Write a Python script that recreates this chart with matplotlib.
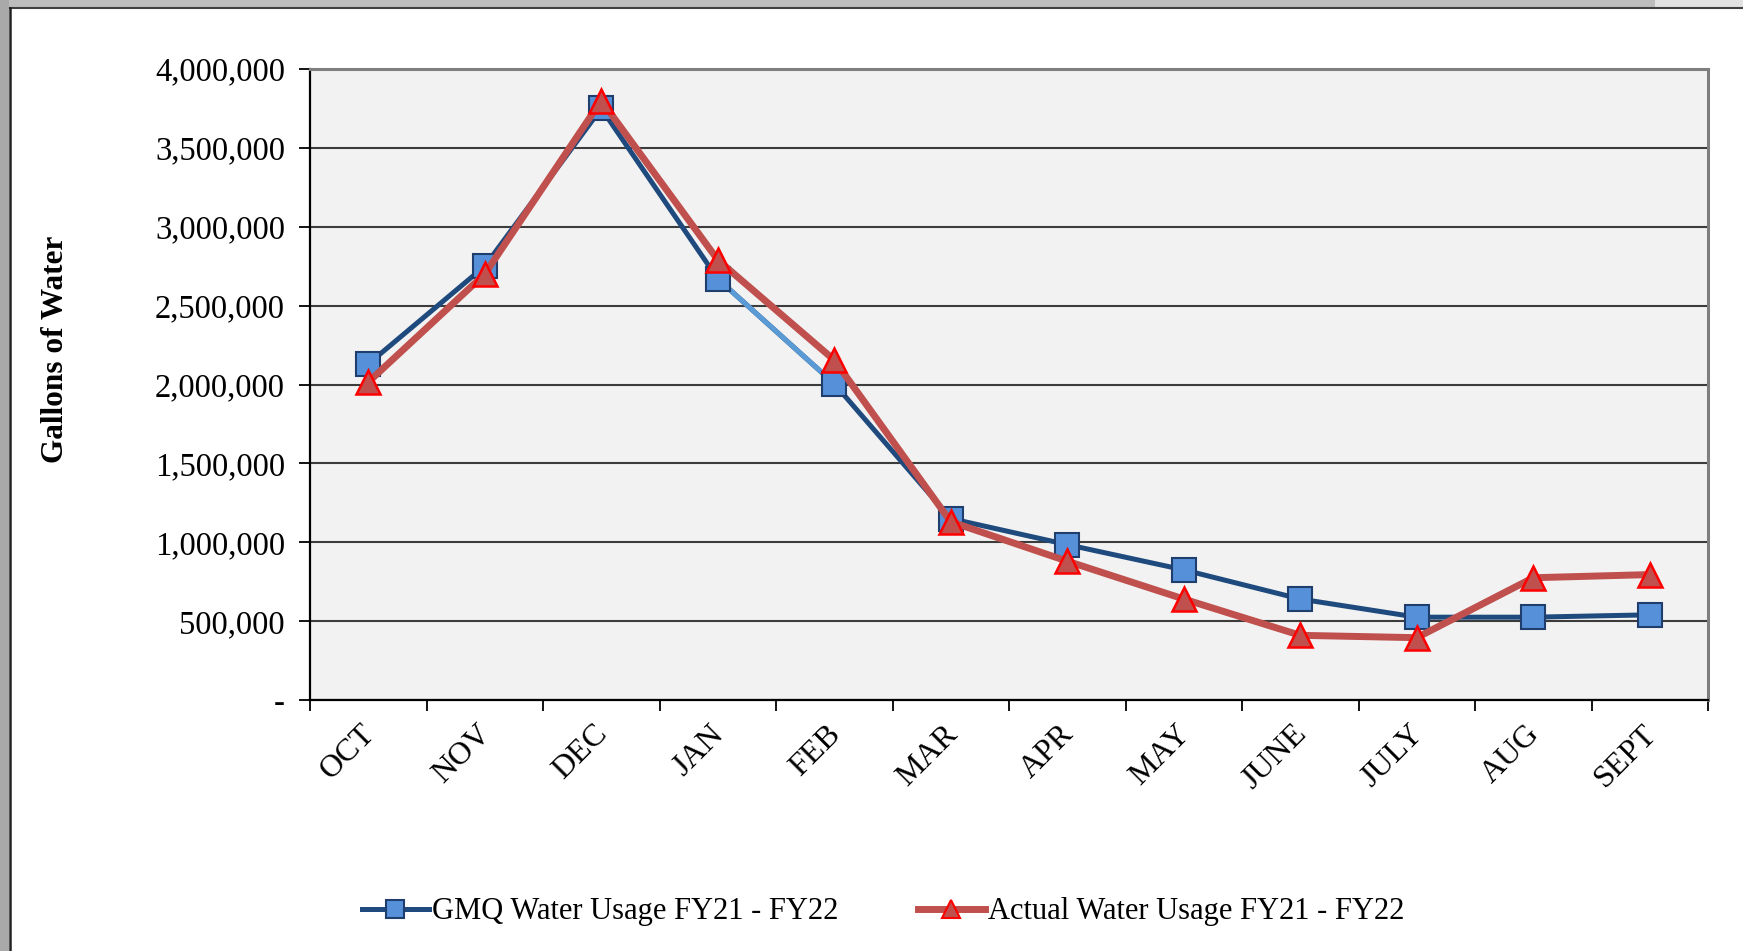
import matplotlib
matplotlib.use("Agg")
import matplotlib.pyplot as plt
from matplotlib.patches import Rectangle
from matplotlib.lines import Line2D
from matplotlib.ticker import FuncFormatter, FixedLocator
from matplotlib.transforms import ScaledTranslation

months = ["OCT", "NOV", "DEC", "JAN", "FEB", "MAR", "APR", "MAY", "JUNE", "JULY", "AUG", "SEPT"]
gmq = [2130000, 2750000, 3750000, 2670000, 2005000, 1150000, 985000, 825000, 640000, 525000, 525000, 540000]
actual = [2015000, 2700000, 3800000, 2790000, 2155000, 1130000, 880000, 640000, 410000, 395000, 775000, 795000]
gmq_label = "GMQ Water Usage FY21 - FY22"
actual_label = "Actual Water Usage FY21 - FY22"
yticks = [0, 500000, 1000000, 1500000, 2000000, 2500000, 3000000, 3500000, 4000000]

plt.rcParams['font.family'] = ['Liberation Serif', 'DejaVu Serif']

W, H = 1743, 951
fig = plt.figure(figsize=(W / 100, H / 100), dpi=100)
fig.patch.set_facecolor('white')

# frame decorations
fig.patches.append(Rectangle((0, 1 - 7 / H), 1655 / W, 7 / H, transform=fig.transFigure,
                             facecolor='#bdbdbd', edgecolor='none', zorder=0))
fig.patches.append(Rectangle((1655 / W, 1 - 7 / H), 1 - 1655 / W, 7 / H, transform=fig.transFigure,
                             facecolor='#e2e2e2', edgecolor='none', zorder=0))
fig.patches.append(Rectangle((0, 0), 9 / W, 1, transform=fig.transFigure,
                             facecolor='#a9a9a9', edgecolor='none', zorder=0))
fig.lines.append(Line2D([9.5 / W, 1], [1 - 8 / H, 1 - 8 / H], transform=fig.transFigure,
                        color='#404040', lw=1.5))
fig.lines.append(Line2D([9.5 / W, 9.5 / W], [0, 1 - 8 / H], transform=fig.transFigure,
                        color='#202020', lw=1.8))

ax = fig.add_axes([310 / W, 1 - 700 / H, 1398 / W, 631 / H])
ax.set_facecolor('#f2f2f2')

x = list(range(len(months)))
ax.plot(x, gmq, color='#1f4a7e', lw=3.6, zorder=3, solid_capstyle='round')
# lighter segment between JAN and FEB
ax.plot(x[3:5], gmq[3:5], color='#5b9bd5', lw=3.6, zorder=3.1)
ax.plot(x, gmq, ls='none', marker='s', markersize=17, markerfacecolor='#5590d8',
        markeredgecolor='#1f3e6e', markeredgewidth=1.5, zorder=4)
ax.plot(x, actual, color='#c0504d', lw=5, zorder=5, solid_capstyle='round')
ax.plot(x, actual, ls='none', marker='^', markersize=17, markerfacecolor='#c0504d',
        markeredgecolor='#ff0000', markeredgewidth=1.8, zorder=6)

ax.set_xlim(-0.5, len(months) - 0.5)
ax.set_ylim(0, 4000000)
ax.set_yticks(yticks)
ax.yaxis.set_major_formatter(FuncFormatter(lambda v, p: '-' if v == 0 else f"{int(v):,}"))
ax.grid(axis='y', color='#3c3c3c', lw=1.5, zorder=1)
ax.set_axisbelow(True)

ax.set_xticks(x)
ax.set_xticklabels(months, rotation=45, ha='right', va='top', rotation_mode='anchor')
ax.xaxis.set_minor_locator(FixedLocator([i - 0.5 for i in range(len(months) + 1)]))
ax.tick_params(axis='x', which='major', length=0, pad=14, labelsize=23)
ax.tick_params(axis='x', which='minor', length=8, width=1.3, direction='out', color='black')
ax.tick_params(axis='y', length=8, width=1.3, direction='out', labelsize=23.5, pad=10)

off = ScaledTranslation(-8 / 100, 0, fig.dpi_scale_trans)
for lbl in ax.get_xticklabels():
    lbl.set_transform(lbl.get_transform() + off)

for s in ['left', 'bottom']:
    ax.spines[s].set_color('black')
    ax.spines[s].set_linewidth(1.6)
for s in ['top', 'right']:
    ax.spines[s].set_color('#7f7f7f')
    ax.spines[s].set_linewidth(2.2)

fig.text(56 / W, 1 - 349 / H, "Gallons of Water", rotation=90, ha='center', va='center',
         fontsize=22.5, fontweight='bold')

h1 = Line2D([], [], color='#1f4a7e', lw=3.6, marker='s', markersize=13,
            markerfacecolor='#5590d8', markeredgecolor='#1f3e6e', markeredgewidth=1.5)
h2 = Line2D([], [], color='#c0504d', lw=5, marker='^', markersize=13,
            markerfacecolor='#c0504d', markeredgecolor='#ff0000', markeredgewidth=1.5)
fig.legend([h1, h2], [gmq_label, actual_label], loc='center', bbox_to_anchor=(883 / W, 1 - 912 / H),
           ncol=2, frameon=False, fontsize=22, handlelength=2.2, handletextpad=0.1,
           columnspacing=2.6)

fig.savefig('out.png', dpi=100, facecolor='white')
